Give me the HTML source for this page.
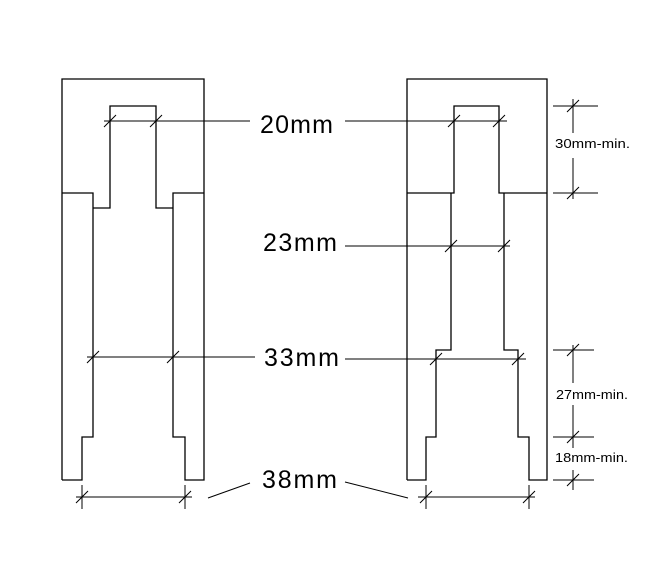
<!DOCTYPE html>
<html><head><style>body{margin:0;background:#fff}svg{display:block}</style></head><body>
<svg width="662" height="566" xmlns="http://www.w3.org/2000/svg">
<rect width="662" height="566" fill="#fff"/>
<g fill="none" stroke="#000" stroke-width="1.3">
<!-- left shape -->
<path d="M62,480 V79 H204 V480 H185 V437 H173 V193 H204"/>
<path d="M62,193 H93 V437 H82 V480 H62"/>
<path d="M93,208 H110 V106 H156 V208 H173"/>
<!-- right shape -->
<path d="M407,480 V79 H547 V480 H529 V437 H518 V350 H504 V193"/>
<path d="M407,193 H454 V106 H499 V193 H547"/>
<path d="M451,193 V350 H436 V437 H426 V480 H407"/>
</g>
<g fill="none" stroke="#000" stroke-width="1">
<path d="M104,121 H250 M345,121 H507"/>
<path d="M345,246 H510"/>
<path d="M87,357 H255 M345,359 H526"/>
<path d="M76,497 H192 M82,485 V509 M185,485 V509 M208,498 L250,483"/>
<path d="M418,497 H535 M426,485 V509 M529,485 V509 M345,482 L408,498"/>
<path d="M553,106 H598 M573,99 V133 M573,158 V199 M553,193 H598"/>
<path d="M553,350 H594 M573,345 V383 M573,405 V448 M553,437 H594 M573,470 V490 M553,480 H594"/>
</g>
<g stroke="#000" stroke-width="1">
<path d="M104,127 l12,-12 M150,127 l12,-12 M448,127 l12,-12 M493,127 l12,-12"/>
<path d="M445,252 l12,-12 M498,252 l12,-12"/>
<path d="M87,363 l12,-12 M167,363 l12,-12 M430,365 l12,-12 M512,365 l12,-12"/>
<path d="M76,503 l12,-12 M179,503 l12,-12 M420,503 l12,-12 M523,503 l12,-12"/>
<path d="M567,112 l12,-12 M567,199 l12,-12 M567,356 l12,-12 M567,443 l12,-12 M567,486 l12,-12"/>
</g>
<g font-family="Liberation Sans, sans-serif" fill="#000">
<text x="260" y="133" font-size="25" textLength="73">20mm</text>
<text x="263" y="251" font-size="25" textLength="74">23mm</text>
<text x="264" y="366" font-size="25" textLength="75">33mm</text>
<text x="262" y="488" font-size="25" textLength="75">38mm</text>
<text x="555" y="148" font-size="13" textLength="75" lengthAdjust="spacingAndGlyphs">30mm-min.</text>
<text x="556" y="399" font-size="13" textLength="72" lengthAdjust="spacingAndGlyphs">27mm-min.</text>
<text x="555" y="462" font-size="13" textLength="73" lengthAdjust="spacingAndGlyphs">18mm-min.</text>
</g>
</svg>
</body></html>
